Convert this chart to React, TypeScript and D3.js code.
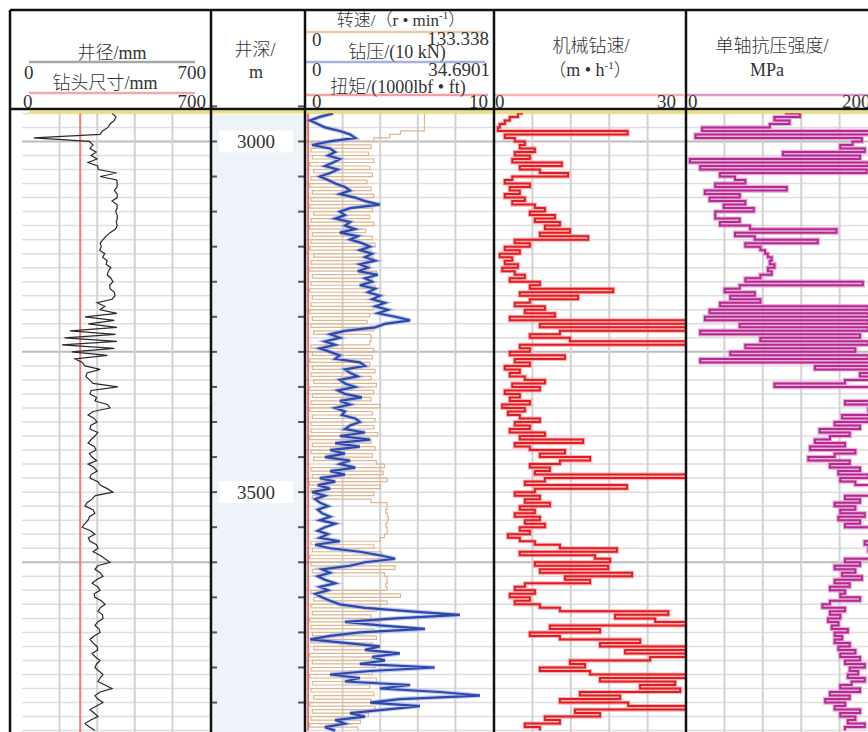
import React from "react";
import * as d3 from "d3";

// drilling log: caliper / depth / rpm-wob-torque / ROP / UCS

const W = 868;
const H = 732;

const DEPTH_TOP = 2958;
const DEPTH_BOTTOM = 3842;
const DEPTH_LABELS = [3000, 3500];
const GRID_MAJOR = [3000, 3300, 3600];

// every curve sampled each 5 m from 2960 m
const LOG_START = 2960;
const LOG_STEP = 5;

const caliper = [
  350, 367, 360, 342, 333, 310, 300, 20, 255, 270,
  257, 283, 262, 287, 249, 290, 292, 370, 300, 370,
  372, 371, 360, 372, 372, 350, 371, 372, 365, 372,
  372, 368, 372, 365, 342, 325, 312, 300, 305, 298,
  320, 310, 330, 325, 345, 335, 330, 345, 354, 340,
  342, 360, 363, 350, 287, 320, 300, 371, 236, 360,
  250, 371, 173, 365, 150, 371, 139, 360, 180, 330,
  194, 225, 236, 300, 245, 240, 255, 270, 375, 262,
  257, 285, 278, 330, 342, 270, 249, 275, 287, 260,
  257, 290, 278, 262, 249, 275, 283, 255, 266, 285,
  249, 275, 287, 262, 257, 290, 300, 330, 354, 280,
  266, 245, 236, 270, 278, 255, 249, 235, 224, 260,
  278, 250, 257, 285, 291, 270, 300, 320, 342, 290,
  278, 300, 312, 285, 266, 290, 300, 275, 278, 305,
  321, 300, 291, 310, 312, 290, 278, 295, 300, 275,
  257, 270, 287, 290, 266, 280, 300, 285, 278, 295,
  312, 300, 291, 320, 350, 300, 278, 290, 312, 285,
  257, 275, 291, 260, 236, 255, 278,
];
const BIT_SIZE = 215.9;

const rpm = [
  88, 88, 88, 88, 88, 88, 70, 62, 50, 3,
  48, 3, 46, 4, 50, 2, 47, 5, 49, 3,
  45, 2, 48, 4, 50, 3, 46, 2, 49, 5,
  47, 3, 50, 2, 44, 4, 49, 3, 51, 2,
  48, 5, 50, 3, 47, 2, 52, 4, 49, 3,
  51, 2, 48, 4, 53, 3, 50, 2, 47, 4,
  45, 3, 50, 5, 48, 48, 47, 3, 50, 4,
  49, 2, 47, 4, 51, 3, 48, 5, 52, 2,
  50, 4, 48, 3, 55, 2, 49, 4, 51, 3,
  50, 3, 53, 2, 48, 4, 51, 3, 49, 5,
  52, 58, 3, 57, 4, 60, 2, 55, 3, 50,
  4, 48, 60, 60, 59, 60, 61, 60, 59, 60,
  60, 58, 55, 3, 50, 4, 56, 2, 60, 3,
  66, 4, 58, 60, 60, 59, 60, 3, 70, 5,
  60, 3, 52, 4, 48, 2, 55, 3, 50, 4,
  52, 3, 49, 5, 53, 2, 48, 4, 51, 3,
  49, 2, 52, 4, 47, 3, 50, 5, 48, 2,
  51, 4, 46, 3, 40, 2, 38,
];

const wob = [
  5.1, 2.5, 0.6, 2.1, 3.5, 6.4, 8.4, 9.4, 4.5, 1.0,
  4.5, 5.5, 4.1, 6.4, 5.1, 3.5, 6.0, 4.5, 2.5, 4.1,
  5.5, 7.4, 8.4, 6.4, 9.4, 11.3, 14.2, 8.4, 6.4, 7.4,
  5.5, 8.4, 7.4, 9.4, 6.4, 9.9, 8.4, 10.7, 12.3, 10.3,
  12.7, 11.3, 13.3, 10.3, 11.9, 9.9, 13.8, 11.3, 12.7, 10.3,
  13.3, 11.9, 14.2, 12.7, 15.2, 13.3, 15.8, 13.8, 17.2, 20.1,
  15.2, 13.3, 7.4, 4.5, 6.4, 3.5, 5.5, 2.5, 4.5, 6.4,
  5.5, 10.3, 11.3, 7.4, 8.4, 9.9, 6.4, 7.4, 9.4, 6.0,
  7.4, 10.7, 6.4, 8.4, 5.5, 7.4, 6.8, 9.4, 10.3, 8.4,
  7.4, 11.3, 6.4, 12.3, 5.5, 10.3, 4.5, 7.4, 3.5, 8.4,
  6.4, 9.4, 4.5, 7.4, 2.5, 5.5, 2.1, 4.5, 1.0, 3.5,
  1.6, 2.5, 4.1, 2.1, 2.9, 4.5, 2.5, 5.5, 3.5, 2.1,
  4.1, 2.5, 6.4, 1.6, 4.5, 10.3, 14.2, 17.2, 11.3, 8.4,
  2.9, 4.5, 2.1, 3.5, 5.5, 2.5, 4.1, 1.6, 2.9, 4.5,
  6.4, 11.3, 20.1, 29.8, 17.2, 7.4, 14.2, 23.0, 10.3, 4.5,
  0.6, 7.4, 14.2, 11.3, 18.1, 12.7, 15.2, 10.3, 24.9, 12.3,
  4.5, 10.3, 7.4, 20.1, 14.2, 25.9, 33.7, 18.1, 12.3, 22.0,
  15.2, 8.4, 11.3, 5.5, 7.4, 3.5, 5.5,
];

const TORQUE_DEPTHS = [2960, 3840];
const torque = [0.06, 0.06];

const rop = [
  4.3, 3.5, 2.2, 1.4, 0.6, 0.3, 21.0, 1.4, 3.0, 4.6,
  3.8, 6.2, 3.0, 5.4, 2.6, 10.5, 3.8, 7.0, 11.5, 2.6,
  1.4, 5.4, 2.2, 3.8, 1.4, 4.6, 2.6, 6.2, 7.8, 5.4,
  9.4, 6.2, 10.2, 7.8, 11.8, 7.0, 14.7, 3.0, 5.4, 1.4,
  3.8, 0.6, 2.6, 1.4, 3.5, 1.0, 3.0, 4.6, 2.2, 7.0,
  5.4, 18.7, 3.8, 13.1, 5.4, 3.0, 7.8, 4.6, 9.4, 2.2,
  31, 7.0, 31, 10.2, 5.4, 11.8, 31, 3.8, 5.4, 2.2,
  11.0, 3.0, 5.4, 1.4, 3.8, 2.2, 4.6, 7.8, 2.6, 7.0,
  1.4, 3.8, 2.2, 5.4, 1.0, 4.6, 1.9, 3.8, 7.0, 3.0,
  5.4, 2.2, 7.8, 3.8, 13.9, 3.0, 5.4, 11.0, 7.0, 15.0,
  10.2, 5.4, 8.6, 6.2, 31, 7.8, 4.6, 20.9, 6.2, 3.0,
  7.0, 4.6, 8.6, 3.8, 6.2, 3.0, 7.0, 4.6, 7.8, 3.8,
  5.4, 1.9, 3.8, 6.2, 10.2, 19.3, 3.8, 15.8, 18.2, 6.2,
  17.9, 7.0, 21.7, 11.0, 15.0, 4.6, 3.0, 6.2, 2.2, 5.4,
  3.0, 7.0, 10.2, 27.5, 19.0, 25.4, 31, 8.6, 16.6, 5.4,
  10.2, 23.0, 16.6, 31, 20.6, 31, 24.6, 11.8, 14.2, 7.0,
  15.0, 31, 16.6, 28.6, 23.0, 29.4, 13.4, 19.8, 10.2, 21.1,
  31, 12.6, 16.6, 7.8, 10.2, 4.6, 7.0,
];

const ucs = [
  103, 119, 92, 108, 87, 15, 195, 8, 185, 175,
  162, 188, 101, 183, 2, 192, 13, 190, 34, 50,
  61, 29, 105, 18, 55, 23, 61, 38, 70, 29,
  29, 55, 34, 66, 158, 50, 71, 138, 61, 77,
  82, 85, 89, 87, 92, 85, 89, 77, 61, 186,
  55, 39, 71, 45, 77, 34, 192, 23, 192, 18,
  192, 55, 192, 13, 183, 77, 192, 61, 178, 45,
  192, 13, 195, 135, 196, 183, 195, 167, 92, 195,
  199, 194, 200, 167, 196, 192, 199, 164, 192, 156,
  183, 140, 172, 151, 135, 167, 130, 178, 156, 128,
  172, 151, 183, 160, 192, 162, 178, 199, 200, 200,
  167, 183, 156, 178, 162, 188, 160, 183, 167, 194,
  200, 196, 200, 188, 199, 192, 200, 194, 167, 183,
  156, 178, 164, 185, 156, 172, 151, 167, 162, 183,
  151, 143, 167, 151, 162, 149, 160, 153, 170, 156,
  164, 156, 172, 160, 178, 162, 183, 167, 188, 172,
  181, 170, 188, 174, 162, 183, 151, 172, 146, 167,
  156, 183, 162, 178, 170, 188, 167,
];

// ---- layout ----
const TOP = 10;
const HEAD_BOTTOM = 109;
const DATA_TOP = 112;
const COLS = [10, 211, 305, 494, 686, 878];

const FONT = "'Liberation Serif', 'Noto Sans CJK SC', serif";

type Pt = [number, number];
const toPts = (start: number, step: number, vals: number[]): Pt[] =>
  vals.map((v, i) => [start + step * i, v]);

const y = d3.scaleLinear().domain([DEPTH_TOP, DEPTH_BOTTOM]).range([DATA_TOP, H]);

const calX = d3.scaleLinear().domain([0, 700]).range([29, 195]);
const rpmX = d3.scaleLinear().domain([0, 133.338]).range([307, 485]);
const wobX = d3.scaleLinear().domain([0, 34.6901]).range([307, 485]);
const tqX = d3.scaleLinear().domain([0, 10]).range([307, 485]);
const ropX = d3.scaleLinear().domain([0, 30]).range([496, 684]);
const ucsX = d3.scaleLinear().domain([0, 200]).range([688, 876]);

function vline(xs: d3.ScaleLinear<number, number>, curve: d3.CurveFactory = d3.curveLinear) {
  return d3
    .line<Pt>()
    .x((d) => xs(d[1]))
    .y((d) => y(d[0]))
    .curve(curve);
}

const gridDepths = d3.range(2960, DEPTH_BOTTOM, 20);
const tickDepths = d3.range(2950, DEPTH_BOTTOM, 50);

const gridTracks: [number, number][] = [
  [22, 210],
  [305, 493],
  [494, 686],
  [686, 878],
];

function Txt({ x, y: ty, children, anchor = "middle", size = 18 }: any) {
  return (
    <text
      x={x}
      y={ty}
      textAnchor={anchor}
      fontSize={size}
      fontFamily={FONT}
      fontWeight={300}
      fill="#333"
    >
      {children}
    </text>
  );
}

export default function App() {
  const calPts = toPts(LOG_START, LOG_STEP, caliper);
  const rpmPts = toPts(LOG_START, LOG_STEP, rpm);
  const wobPts = toPts(LOG_START, LOG_STEP, wob);
  const ropPts = toPts(LOG_START, LOG_STEP, rop);
  const ucsPts = toPts(LOG_START, LOG_STEP, ucs);
  const tqPts: Pt[] = TORQUE_DEPTHS.map((d, i) => [d, torque[i]]);
  const bitPts: Pt[] = [[DEPTH_TOP, BIT_SIZE], [DEPTH_BOTTOM, BIT_SIZE]];

  const sup = (s: string) => (
    <tspan dy={-7} fontSize={11}>{s}</tspan>
  );

  const ropPath = vline(ropX, d3.curveStepAfter)(ropPts) ?? "";
  const ucsPath = vline(ucsX, d3.curveStepAfter)(ucsPts) ?? "";
  const wobPath = vline(wobX)(wobPts) ?? "";

  return (
    <svg
      width={W}
      height={H}
      style={{ position: "absolute", left: 0, top: 0, background: "#fff" }}
    >
      <defs>
        <clipPath id="c1"><rect x={11} y={DATA_TOP - 2} width={199} height={H} /></clipPath>
        <clipPath id="c3"><rect x={306} y={DATA_TOP - 2} width={187} height={H} /></clipPath>
        <clipPath id="c4"><rect x={495} y={DATA_TOP - 2} width={190} height={H} /></clipPath>
        <clipPath id="c5"><rect x={687} y={DATA_TOP - 2} width={190} height={H} /></clipPath>
      </defs>

      {/* depth track background */}
      <rect x={212} y={HEAD_BOTTOM} width={92} height={H - HEAD_BOTTOM} fill="#eef3f9" />

      {/* horizontal grid */}
      {gridTracks.map(([x0, x1], ti) =>
        gridDepths.map((d) => {
          const major = GRID_MAJOR.includes(d);
          return (
            <line
              key={`h${ti}-${d}`}
              x1={x0}
              x2={x1}
              y1={y(d)}
              y2={y(d)}
              stroke={major ? "#bdbdbd" : "#dedede"}
              strokeWidth={major ? 2 : 1.5}
            />
          );
        })
      )}
      {/* vertical grid */}
      {gridTracks.map(([x0, x1], ti) => {
        const gs = d3.scaleLinear().domain([0, 5]).range([x0, x1]);
        return d3.range(1, 5).map((k) => (
          <line
            key={`v${ti}-${k}`}
            x1={gs(k)}
            x2={gs(k)}
            y1={DATA_TOP}
            y2={H}
            stroke="#d2d2d2"
            strokeWidth={2}
          />
        ));
      })}

      {/* depth ticks and labels */}
      {tickDepths.map((d) => (
        <g key={`t${d}`}>
          <line x1={211} x2={217} y1={y(d)} y2={y(d)} stroke="#555" strokeWidth={2} />
          <line x1={298} x2={305} y1={y(d)} y2={y(d)} stroke="#555" strokeWidth={2} />
        </g>
      ))}
      {DEPTH_LABELS.map((d) => (
        <g key={`l${d}`}>
          <rect x={219} y={y(d) - 11} width={74} height={22} fill="#fff" />
          <Txt x={256} y={y(d) + 7} size={19}>{d}</Txt>
        </g>
      ))}

      {/* track 1: caliper + bit size */}
      <g clipPath="url(#c1)">
        <path d={vline(calX)(bitPts) ?? ""} fill="none" stroke="#f27a7a" strokeWidth={2} />
        <path d={vline(calX)(calPts) ?? ""} fill="none" stroke="#2a2a2a" strokeWidth={1.2} />
      </g>

      {/* track 3: rpm, wob, torque */}
      <g clipPath="url(#c3)">
        <path d={vline(rpmX, d3.curveStepAfter)(rpmPts) ?? ""} fill="none" stroke="#e0b68e" strokeWidth={1.2} />
        <path d={wobPath} fill="none" stroke="#a3b0e6" strokeWidth={4.5} opacity={0.65} />
        <path d={wobPath} fill="none" stroke="#2c48aa" strokeWidth={2.2} />
        <path d={vline(tqX)(tqPts) ?? ""} fill="none" stroke="#e84848" strokeWidth={1.5} />
      </g>

      {/* track 4: ROP */}
      <g clipPath="url(#c4)">
        <path d={ropPath} fill="none" stroke="#f37a7a" strokeWidth={4.2} opacity={0.55} />
        <path d={ropPath} fill="none" stroke="#e21c22" strokeWidth={2} />
      </g>

      {/* track 5: UCS */}
      <g clipPath="url(#c5)">
        <path d={ucsPath} fill="none" stroke="#dc94cc" strokeWidth={4.4} opacity={0.75} />
        <path d={ucsPath} fill="none" stroke="#b62a90" strokeWidth={2} />
      </g>

      {/* yellow top marker */}
      <line x1={29} x2={W} y1={DATA_TOP} y2={DATA_TOP} stroke="#f0e45a" strokeWidth={2.5} />

      {/* header scale lines */}
      <line x1={29} x2={195} y1={62} y2={62} stroke="#a8a8a8" strokeWidth={2.5} />
      <line x1={29} x2={195} y1={93} y2={93} stroke="#f4a8a8" strokeWidth={2.5} />
      <line x1={305} x2={485} y1={32} y2={32} stroke="#ebcaa8" strokeWidth={2.5} />
      <line x1={305} x2={485} y1={62} y2={62} stroke="#a9b1e2" strokeWidth={2.5} />
      <line x1={305} x2={488} y1={95} y2={95} stroke="#f2a2a2" strokeWidth={2.5} />
      <line x1={494} x2={684} y1={95} y2={95} stroke="#f6b4b4" strokeWidth={2.5} />
      <line x1={686} x2={W} y1={95} y2={95} stroke="#d99acb" strokeWidth={2.5} />

      {/* header texts */}
      <Txt x={112} y={59}>井径/mm</Txt>
      <Txt x={24} y={79} anchor="start" size={19}>0</Txt>
      <Txt x={206} y={79} anchor="end" size={19}>700</Txt>
      <Txt x={105} y={89}>钻头尺寸/mm</Txt>
      <Txt x={23} y={108} anchor="start" size={19}>0</Txt>
      <Txt x={206} y={108} anchor="end" size={19}>700</Txt>

      <Txt x={255} y={56}>井深/</Txt>
      <Txt x={256} y={78}>m</Txt>

      <Txt x={401} y={26} size={17}>
        转速/（r • min{sup("-1")}<tspan dy={7}>）</tspan>
      </Txt>
      <Txt x={312} y={46} anchor="start" size={19}>0</Txt>
      <Txt x={489} y={45} anchor="end" size={19}>133.338</Txt>
      <Txt x={397} y={58} size={18}>钻压/(10 kN)</Txt>
      <Txt x={312} y={76} anchor="start" size={19}>0</Txt>
      <Txt x={490} y={76} anchor="end" size={19}>34.6901</Txt>
      <Txt x={398} y={93} size={18}>扭矩/(1000lbf • ft)</Txt>
      <Txt x={312} y={108} anchor="start" size={19}>0</Txt>
      <Txt x={488} y={108} anchor="end" size={19}>10</Txt>

      <Txt x={591} y={52}>机械钻速/</Txt>
      <Txt x={590} y={76}>
        （m • h{sup("-1")}<tspan dy={7}>）</tspan>
      </Txt>
      <Txt x={495} y={108} anchor="start" size={19}>0</Txt>
      <Txt x={676} y={108} anchor="end" size={19}>30</Txt>

      <Txt x={772} y={52}>单轴抗压强度/</Txt>
      <Txt x={767} y={76}>MPa</Txt>
      <Txt x={688} y={108} anchor="start" size={19}>0</Txt>
      <Txt x={842} y={108} anchor="start" size={19}>200</Txt>

      {/* frame */}
      <line x1={COLS[0]} x2={W} y1={TOP} y2={TOP} stroke="#111" strokeWidth={2.5} />
      <line x1={COLS[0]} x2={W} y1={HEAD_BOTTOM} y2={HEAD_BOTTOM} stroke="#111" strokeWidth={2.5} />
      {COLS.map((cx) => (
        <line key={`c${cx}`} x1={cx} x2={cx} y1={TOP} y2={H} stroke="#111" strokeWidth={2.5} />
      ))}
    </svg>
  );
}
